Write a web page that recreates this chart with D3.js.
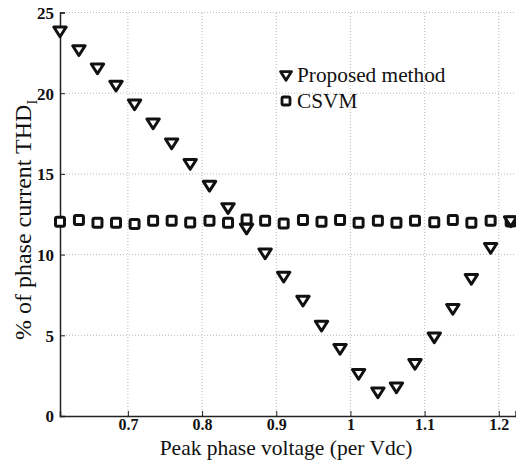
<!DOCTYPE html>
<html><head><meta charset="utf-8">
<script src="https://cdn.jsdelivr.net/npm/d3@7"></script>
<style>body{margin:0;background:#fff;}svg{display:block;font-family:"Liberation Serif","DejaVu Serif",serif;}</style>
</head><body><svg id="c" width="516" height="463"></svg>
<script>
const xValues = [0.6085,0.634,0.659,0.684,0.709,0.734,0.759,0.784,0.810,0.835,0.860,0.885,0.910,0.936,0.961,0.986,1.011,1.037,1.062,1.087,1.113,1.138,1.163,1.189,1.216];
const proposed = [23.86,22.7,21.57,20.5,19.34,18.16,16.92,15.65,14.3,12.92,11.65,10.11,8.67,7.18,5.63,4.19,2.64,1.5,1.81,3.26,4.91,6.67,8.53,10.45,12.1];
const csvm = [12.03,12.14,11.97,11.97,11.89,12.09,12.09,11.99,12.09,11.97,12.18,12.09,11.93,12.14,12.03,12.14,11.97,12.09,11.97,12.09,12.01,12.14,11.97,12.09,12.05];
const xTicks = [0.7,0.8,0.9,1,1.1,1.2];
const yTicks = [0,5,10,15,20,25];
const seriesNames = ["Proposed method","CSVM"];

const svg = d3.select("#c");
const L=60,R=515.5,T=12.5,B=416;
const x = d3.scaleLinear().domain([0.6085,1.2225]).range([L,R]);
const y = d3.scaleLinear().domain([0,25]).range([B,T]);

// grid
const g = svg.append("g");
g.selectAll(".vg").data(xTicks).join("line")
 .attr("x1",d=>x(d)).attr("x2",d=>x(d)).attr("y1",B).attr("y2",T)
 .attr("stroke","#bbb").attr("stroke-width",1).attr("stroke-dasharray","1,2");
g.selectAll(".hg").data(yTicks.slice(1)).join("line")
 .attr("x1",L).attr("x2",R).attr("y1",d=>y(d)).attr("y2",d=>y(d))
 .attr("stroke","#bbb").attr("stroke-width",1).attr("stroke-dasharray","1,2");

// axes
const xa = svg.append("g").attr("transform",`translate(0,${B})`)
 .call(d3.axisBottom(x).tickValues(xTicks).tickSize(-5).tickPadding(3).tickFormat(d=>d3.format("")(d)));
const ya = svg.append("g").attr("transform",`translate(${L},0)`)
 .call(d3.axisLeft(y).tickValues(yTicks).tickSize(-5).tickPadding(6));
[xa,ya].forEach(a=>{
 a.select(".domain").attr("stroke","#222").attr("stroke-width",1.5);
 a.selectAll(".tick line").attr("stroke","#222").attr("stroke-width",1);
 a.selectAll("text").attr("font-family","Liberation Serif, serif").attr("font-size",17).attr("font-weight","bold").attr("fill","#111");
});
xa.selectAll("text").attr("font-size",16);
ya.selectAll("text").attr("dy","0.35em");

// markers
const tri = (cx,cy,s)=>`M${cx-s},${cy-s*0.62}L${cx+s},${cy-s*0.62}L${cx},${cy+s*0.95}Z`;
svg.append("g").selectAll("rect").data(csvm).join("rect")
 .attr("x",(d,i)=>x(xValues[i])-4.5).attr("y",d=>y(d)-4.5).attr("width",9).attr("height",9)
 .attr("rx",1.5).attr("fill","#fff").attr("stroke","#111").attr("stroke-width",3);
svg.append("g").selectAll("path").data(proposed).join("path")
 .attr("d",(d,i)=>tri(x(xValues[i]),y(d),6.2))
 .attr("fill","#fff").attr("stroke","#111").attr("stroke-width",3).attr("stroke-linejoin","round");

// legend
const lg = svg.append("g");
lg.append("path").attr("d",tri(286,75,5.5)).attr("fill","#fff").attr("stroke","#111").attr("stroke-width",2.8).attr("stroke-linejoin","round");
lg.append("rect").attr("x",282).attr("y",97).attr("width",8).attr("height",8).attr("rx",1.5).attr("fill","#fff").attr("stroke","#111").attr("stroke-width",2.8);
lg.append("text").attr("x",297).attr("y",82).attr("font-size",21.3).attr("fill","#111").text(seriesNames[0]);
lg.append("text").attr("x",297).attr("y",108).attr("font-size",21.3).attr("fill","#111").text(seriesNames[1]);

// axis labels
svg.append("text").attr("x",286).attr("y",455).attr("text-anchor","middle").attr("font-size",21.5).attr("fill","#111")
 .text("Peak phase voltage (per Vdc)");
const yl = svg.append("text").attr("transform","translate(31,220) rotate(-90)").attr("text-anchor","middle").attr("font-size",24).attr("fill","#111");
yl.append("tspan").text("% of phase current THD");
yl.append("tspan").attr("font-size",14).attr("dy",6).text("I");
</script></body></html>
